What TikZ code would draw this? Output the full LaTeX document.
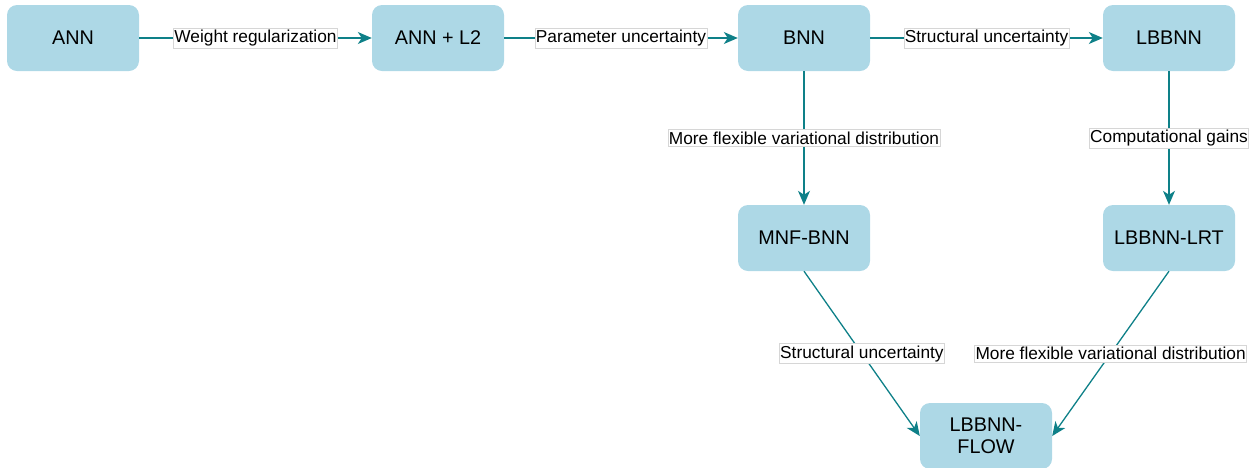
\documentclass[tikz,border=0pt]{standalone}
\usepackage{fontspec}
\setmainfont{Liberation Sans}
\usetikzlibrary{arrows.meta}
\definecolor{nodefill}{HTML}{ADD8E6}
\definecolor{edgecol}{HTML}{0E8088}
\definecolor{lblborder}{HTML}{D6D6D6}
\begin{document}
\begin{tikzpicture}[x=1pt,y=-1pt,
  box/.style={rectangle, rounded corners=10pt, fill=nodefill, minimum width=132pt, minimum height=66pt, inner sep=0pt, font=\fontsize{19.8}{22}\selectfont, align=center},
  conn/.style={draw=edgecol, line width=1.3pt, -{Stealth[length=14pt,width=12pt,inset=4pt]}},
  lbl/.style={fill=white, draw=lblborder, line width=0.6pt, inner xsep=0.8pt, inner ysep=2pt, font=\fontsize{17.3}{18}\selectfont}
]
\useasboundingbox (0,0) rectangle (1253,467);
\node[box] (ann)  at (73,38)   {ANN};
\node[box] (annl) at (438,38)  {ANN + L2};
\node[box] (bnn)  at (804,38)  {BNN};
\node[box] (lb)   at (1169,38) {LBBNN};
\node[box] (mnf)  at (804,238) {MNF-BNN};
\node[box] (lrt)  at (1169,238) {LBBNN-LRT};
\node[box] (flow) at (986,436) {LBBNN-\\FLOW};
\draw[conn] (ann) -- node[lbl]{Weight regularization} (annl);
\draw[conn] (annl) -- node[lbl]{Parameter uncertainty} (bnn);
\draw[conn] (bnn) -- node[lbl]{Structural uncertainty} (lb);
\draw[conn] (bnn) -- node[lbl]{More flexible variational distribution} (mnf);
\draw[conn] (lb) -- node[lbl]{Computational gains} (lrt);
\draw[conn] (mnf.south) -- node[lbl]{Structural uncertainty} (flow.west);
\draw[conn] (lrt.south) -- node[lbl]{More flexible variational distribution} (flow.east);
\end{tikzpicture}
\end{document}
